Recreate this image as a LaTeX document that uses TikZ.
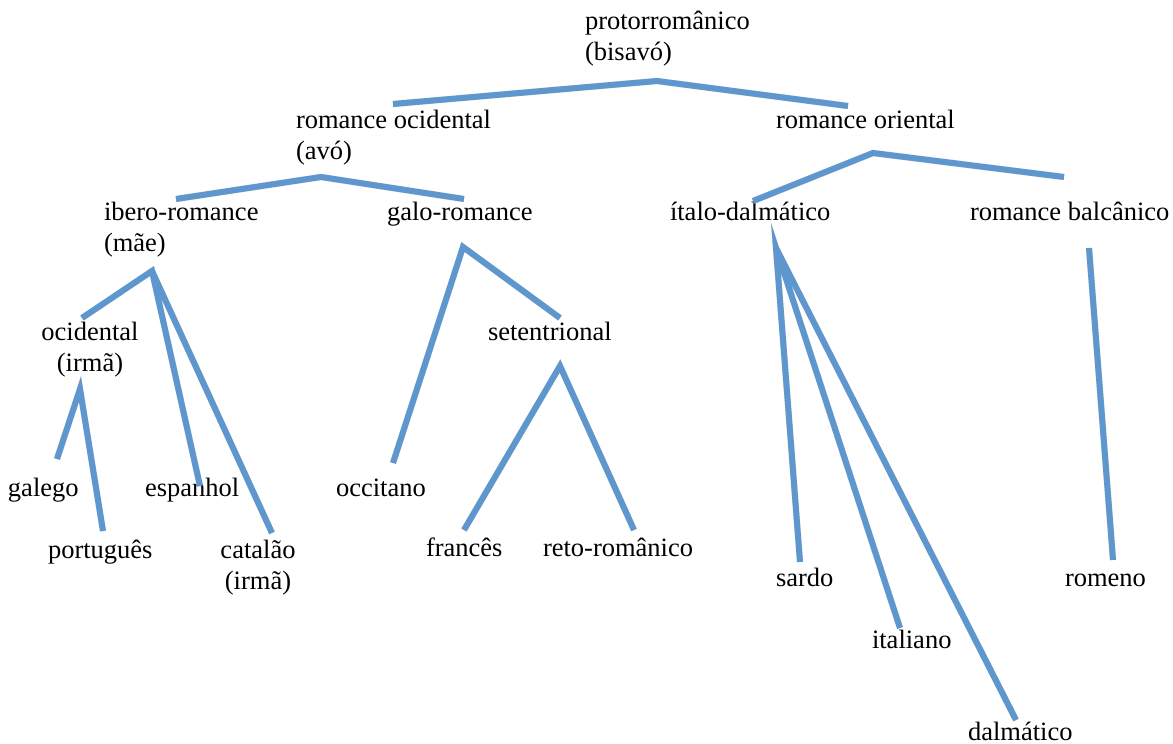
\documentclass[tikz,border=0pt]{standalone}
\usepackage{fontspec}
\setmainfont{Liberation Serif}
\definecolor{branch}{RGB}{94,150,206}
\begin{document}
\begin{tikzpicture}[x=1pt,y=-1pt,
  lbl/.style={inner sep=0pt,outer sep=0pt,anchor=base west,font=\fontsize{26.5}{31}\selectfont},
  clbl/.style={lbl,anchor=base,align=center},
  llbl/.style={lbl,align=left},
  branchline/.style={draw=branch,line width=6pt,line join=miter},
  shadowline/.style={draw=black,opacity=0.12,line width=6.5pt,line join=miter}]
\useasboundingbox (0,0) rectangle (1173,744);
% labels (multi-line labels are placed by the baseline of their last line)
\node[llbl] (proto) at (585,60) {protorromânico\\(bisavó)};
\node[llbl] (romocc) at (296,159) {romance ocidental\\(avó)};
\node[lbl] (romori) at (776,128) {romance oriental};
\node[llbl] (ibero) at (104,251) {ibero-romance\\(mãe)};
\node[lbl] (galo) at (387,220) {galo-romance};
\node[lbl] (italo) at (670,220) {ítalo-dalmático};
\node[lbl] (balc) at (970,220) {romance balcânico};
\node[clbl] (ocid) at (90,371) {ocidental\\(irmã)};
\node[lbl] (setent) at (488,340) {setentrional};
\node[lbl] (galego) at (8,496) {galego};
\node[lbl] (espanhol) at (145,496) {espanhol};
\node[lbl] (occitano) at (336,496) {occitano};
\node[lbl] (portugues) at (48,558) {português};
\node[clbl] (catalao) at (258,589) {catalão\\(irmã)};
\node[lbl] (frances) at (426,556) {francês};
\node[lbl] (reto) at (543,556) {reto-românico};
\node[lbl] (sardo) at (776,586) {sardo};
\node[lbl] (romeno) at (1065,586) {romeno};
\node[lbl] (italiano) at (872,648) {italiano};
\node[lbl] (dalmatico) at (968,740) {dalmático};
% branch points
\coordinate (pA) at (657,81);
\coordinate (pAl) at (393,104);
\coordinate (pAr) at (848,106);
\coordinate (pB) at (321,177);
\coordinate (pBl) at (176,199);
\coordinate (pBr) at (464,199);
\coordinate (pC) at (873,153);
\coordinate (pCl) at (753,201);
\coordinate (pCr) at (1064,177);
\coordinate (pD) at (152,271);
\coordinate (pDl) at (82,318);
\coordinate (pDe) at (200,486);
\coordinate (pDc) at (272,533);
\coordinate (pE) at (80,389);
\coordinate (pEg) at (57,459);
\coordinate (pEp) at (103,531);
\coordinate (pF) at (463,247);
\coordinate (pFo) at (393,463);
\coordinate (pFs) at (560,318);
\coordinate (pG) at (560,366);
\coordinate (pGf) at (464,530);
\coordinate (pGr) at (634,530);
\coordinate (pH) at (776,248);
\coordinate (pHs) at (800,562);
\coordinate (pHi) at (900,628);
\coordinate (pHd) at (1016,720);
\coordinate (pI) at (1089,248);
\coordinate (pIr) at (1113,560);
% shadows
\begin{scope}[shift={(1.5,1.5)}]
\draw[shadowline] (pAl) -- (pA) -- (pAr);
\draw[shadowline] (pBl) -- (pB) -- (pBr);
\draw[shadowline] (pCl) -- (pC) -- (pCr);
\draw[shadowline] (pDl) -- (pD) -- (pDe) (pD) -- (pDc);
\draw[shadowline] (pEg) -- (pE) -- (pEp);
\draw[shadowline] (pFo) -- (pF) -- (pFs);
\draw[shadowline] (pGf) -- (pG) -- (pGr);
\draw[shadowline] (pHs) -- (pH) -- (pHi) (pH) -- (pHd);
\draw[shadowline] (pI) -- (pIr);
\end{scope}
% branches
\draw[branchline] (pAl) -- (pA) -- (pAr);
\draw[branchline] (pBl) -- (pB) -- (pBr);
\draw[branchline] (pCl) -- (pC) -- (pCr);
\draw[branchline] (pDl) -- (pD) -- (pDe) (pD) -- (pDc);
\draw[branchline] (pEg) -- (pE) -- (pEp);
\draw[branchline] (pFo) -- (pF) -- (pFs);
\draw[branchline] (pGf) -- (pG) -- (pGr);
\draw[branchline] (pHs) -- (pH) -- (pHi) (pH) -- (pHd);
\draw[branchline] (pI) -- (pIr);
\end{tikzpicture}
\end{document}
